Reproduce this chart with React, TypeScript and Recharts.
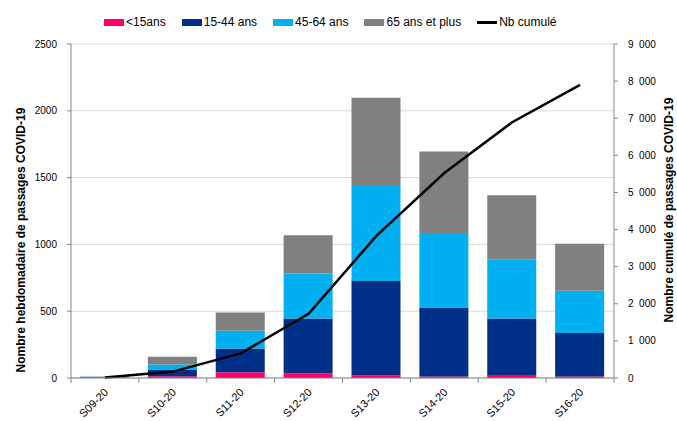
import React from 'react';
import { ComposedChart, Bar, Line, XAxis, YAxis, CartesianGrid } from 'recharts';

const weeks = ['S09-20', 'S10-20', 'S11-20', 'S12-20', 'S13-20', 'S14-20', 'S15-20', 'S16-20'];
const moins15 = [0, 13, 43, 36, 19, 12, 17, 12];
const ans15_44 = [4, 51, 178, 409, 707, 516, 429, 325];
const ans45_64 = [5, 37, 132, 337, 719, 557, 439, 316];
const ans65plus = [3, 58, 137, 287, 653, 611, 482, 352];
const cumul = [12, 172, 662, 1731, 3829, 5525, 6892, 7897];

const leftTicks = [0, 500, 1000, 1500, 2000, 2500];
const rightTicks = [0, 1000, 2000, 3000, 4000, 5000, 6000, 7000, 8000, 9000];

const COLORS = {
  m15: '#FF0066',
  a1544: '#002F87',
  a4564: '#00B0F0',
  a65: '#808080',
  line: '#000000',
};

const W = 677;
const H = 421;
const LEFT_W = 71;
const RIGHT_W = 63;
const BAND = (W - LEFT_W - RIGHT_W) / weeks.length;
const FONT = '"Liberation Sans", Arial, sans-serif';
const AXIS_COLOR = '#868686';

const data = weeks.map((w, i) => ({
  week: w,
  m15: moins15[i],
  a1544: ans15_44[i],
  a4564: ans45_64[i],
  a65: ans65plus[i],
  cumul: cumul[i],
}));

const fmtThousands = (v: number) => {
  const s = String(v);
  if (v >= 1000) return s.slice(0, s.length - 3) + '\u2007' + s.slice(s.length - 3);
  return s;
};

const WeekTick = (props: any) => {
  const { x, y, payload, index } = props;
  const half = BAND / 2;
  const tx = x + 4;
  const ty = y + 15;
  return (
    <g>
      <line x1={x - half} x2={x - half} y1={y} y2={y + 5} stroke={AXIS_COLOR} />
      {index === weeks.length - 1 && (
        <line x1={x + half} x2={x + half} y1={y} y2={y + 5} stroke={AXIS_COLOR} />
      )}
      <text
        x={tx}
        y={ty}
        transform={`rotate(-45, ${tx}, ${ty})`}
        textAnchor="end"
        fontSize={11}
        fontFamily={FONT}
        fill="#000"
      >
        {payload.value}
      </text>
    </g>
  );
};

const legendItems = [
  { label: '<15ans', color: COLORS.m15, type: 'rect' },
  { label: '15-44 ans', color: COLORS.a1544, type: 'rect' },
  { label: '45-64 ans', color: COLORS.a4564, type: 'rect' },
  { label: '65 ans et plus', color: COLORS.a65, type: 'rect' },
  { label: 'Nb cumulé', color: COLORS.line, type: 'line' },
];

export default function App() {
  return (
    <div style={{ position: 'absolute', left: 0, top: 0, width: W, height: H, background: '#fff', fontFamily: FONT }}>
      <div
        style={{
          position: 'absolute',
          left: 104,
          top: 15,
          display: 'flex',
          alignItems: 'center',
          gap: 16,
          fontSize: 12,
          lineHeight: '14px',
          color: '#000',
          whiteSpace: 'nowrap',
        }}
      >
        {legendItems.map((it) => (
          <div key={it.label} style={{ display: 'flex', alignItems: 'center' }}>
            {it.type === 'rect' ? (
              <span style={{ display: 'inline-block', width: 20, height: 7, background: it.color, marginRight: 2, marginTop: 1 }} />
            ) : (
              <span style={{ display: 'inline-block', width: 20, height: 2.5, background: it.color, marginRight: 2, marginTop: 1 }} />
            )}
            <span>{it.label}</span>
          </div>
        ))}
      </div>
      <ComposedChart width={W} height={H} data={data} margin={{ top: 44, right: 0, bottom: 0, left: 0 }}>
        <CartesianGrid vertical={false} stroke="#d9d9d9" yAxisId="left" />
        <XAxis
          dataKey="week"
          height={43}
          interval={0}
          tickLine={false}
          tickSize={0}
          tickMargin={0}
          axisLine={{ stroke: AXIS_COLOR }}
          tick={<WeekTick />}
        />
        <YAxis
          yAxisId="left"
          width={LEFT_W}
          domain={[0, 2500]}
          ticks={leftTicks}
          interval={0}
          tickSize={4}
          tickMargin={10}
          axisLine={{ stroke: AXIS_COLOR }}
          tickLine={{ stroke: AXIS_COLOR }}
          tick={{ fontSize: 10, fill: '#000', fontFamily: FONT }}
          label={{
            content: () => (
              <text
                x={21}
                y={240}
                transform="rotate(-90, 21, 240)"
                textAnchor="middle"
                dominantBaseline="central"
                fontSize={12}
                fontWeight="bold"
                fontFamily={FONT}
                fill="#000"
              >
                Nombre hebdomadaire de passages COVID-19
              </text>
            ),
          }}
        />
        <YAxis
          yAxisId="right"
          orientation="right"
          width={RIGHT_W}
          domain={[0, 9000]}
          ticks={rightTicks}
          interval={0}
          tickSize={4}
          tickMargin={10}
          tickFormatter={fmtThousands}
          axisLine={{ stroke: AXIS_COLOR }}
          tickLine={{ stroke: AXIS_COLOR }}
          tick={{ fontSize: 10, fill: '#000', fontFamily: FONT }}
          label={{
            content: () => (
              <text
                x={669}
                y={210}
                transform="rotate(-90, 669, 210)"
                textAnchor="middle"
                dominantBaseline="central"
                fontSize={12}
                fontWeight="bold"
                fontFamily={FONT}
                fill="#000"
              >
                Nombre cumulé de passages COVID-19
              </text>
            ),
          }}
        />
        <Bar yAxisId="left" dataKey="m15" name="<15ans" stackId="a" fill={COLORS.m15} barSize={49} isAnimationActive={false} />
        <Bar yAxisId="left" dataKey="a1544" name="15-44 ans" stackId="a" fill={COLORS.a1544} barSize={49} isAnimationActive={false} />
        <Bar yAxisId="left" dataKey="a4564" name="45-64 ans" stackId="a" fill={COLORS.a4564} barSize={49} isAnimationActive={false} />
        <Bar yAxisId="left" dataKey="a65" name="65 ans et plus" stackId="a" fill={COLORS.a65} barSize={49} isAnimationActive={false} />
        <Line
          yAxisId="right"
          type="linear"
          dataKey="cumul"
          name="Nb cumulé"
          stroke={COLORS.line}
          strokeWidth={2.5}
          dot={false}
          isAnimationActive={false}
        />
      </ComposedChart>
    </div>
  );
}
